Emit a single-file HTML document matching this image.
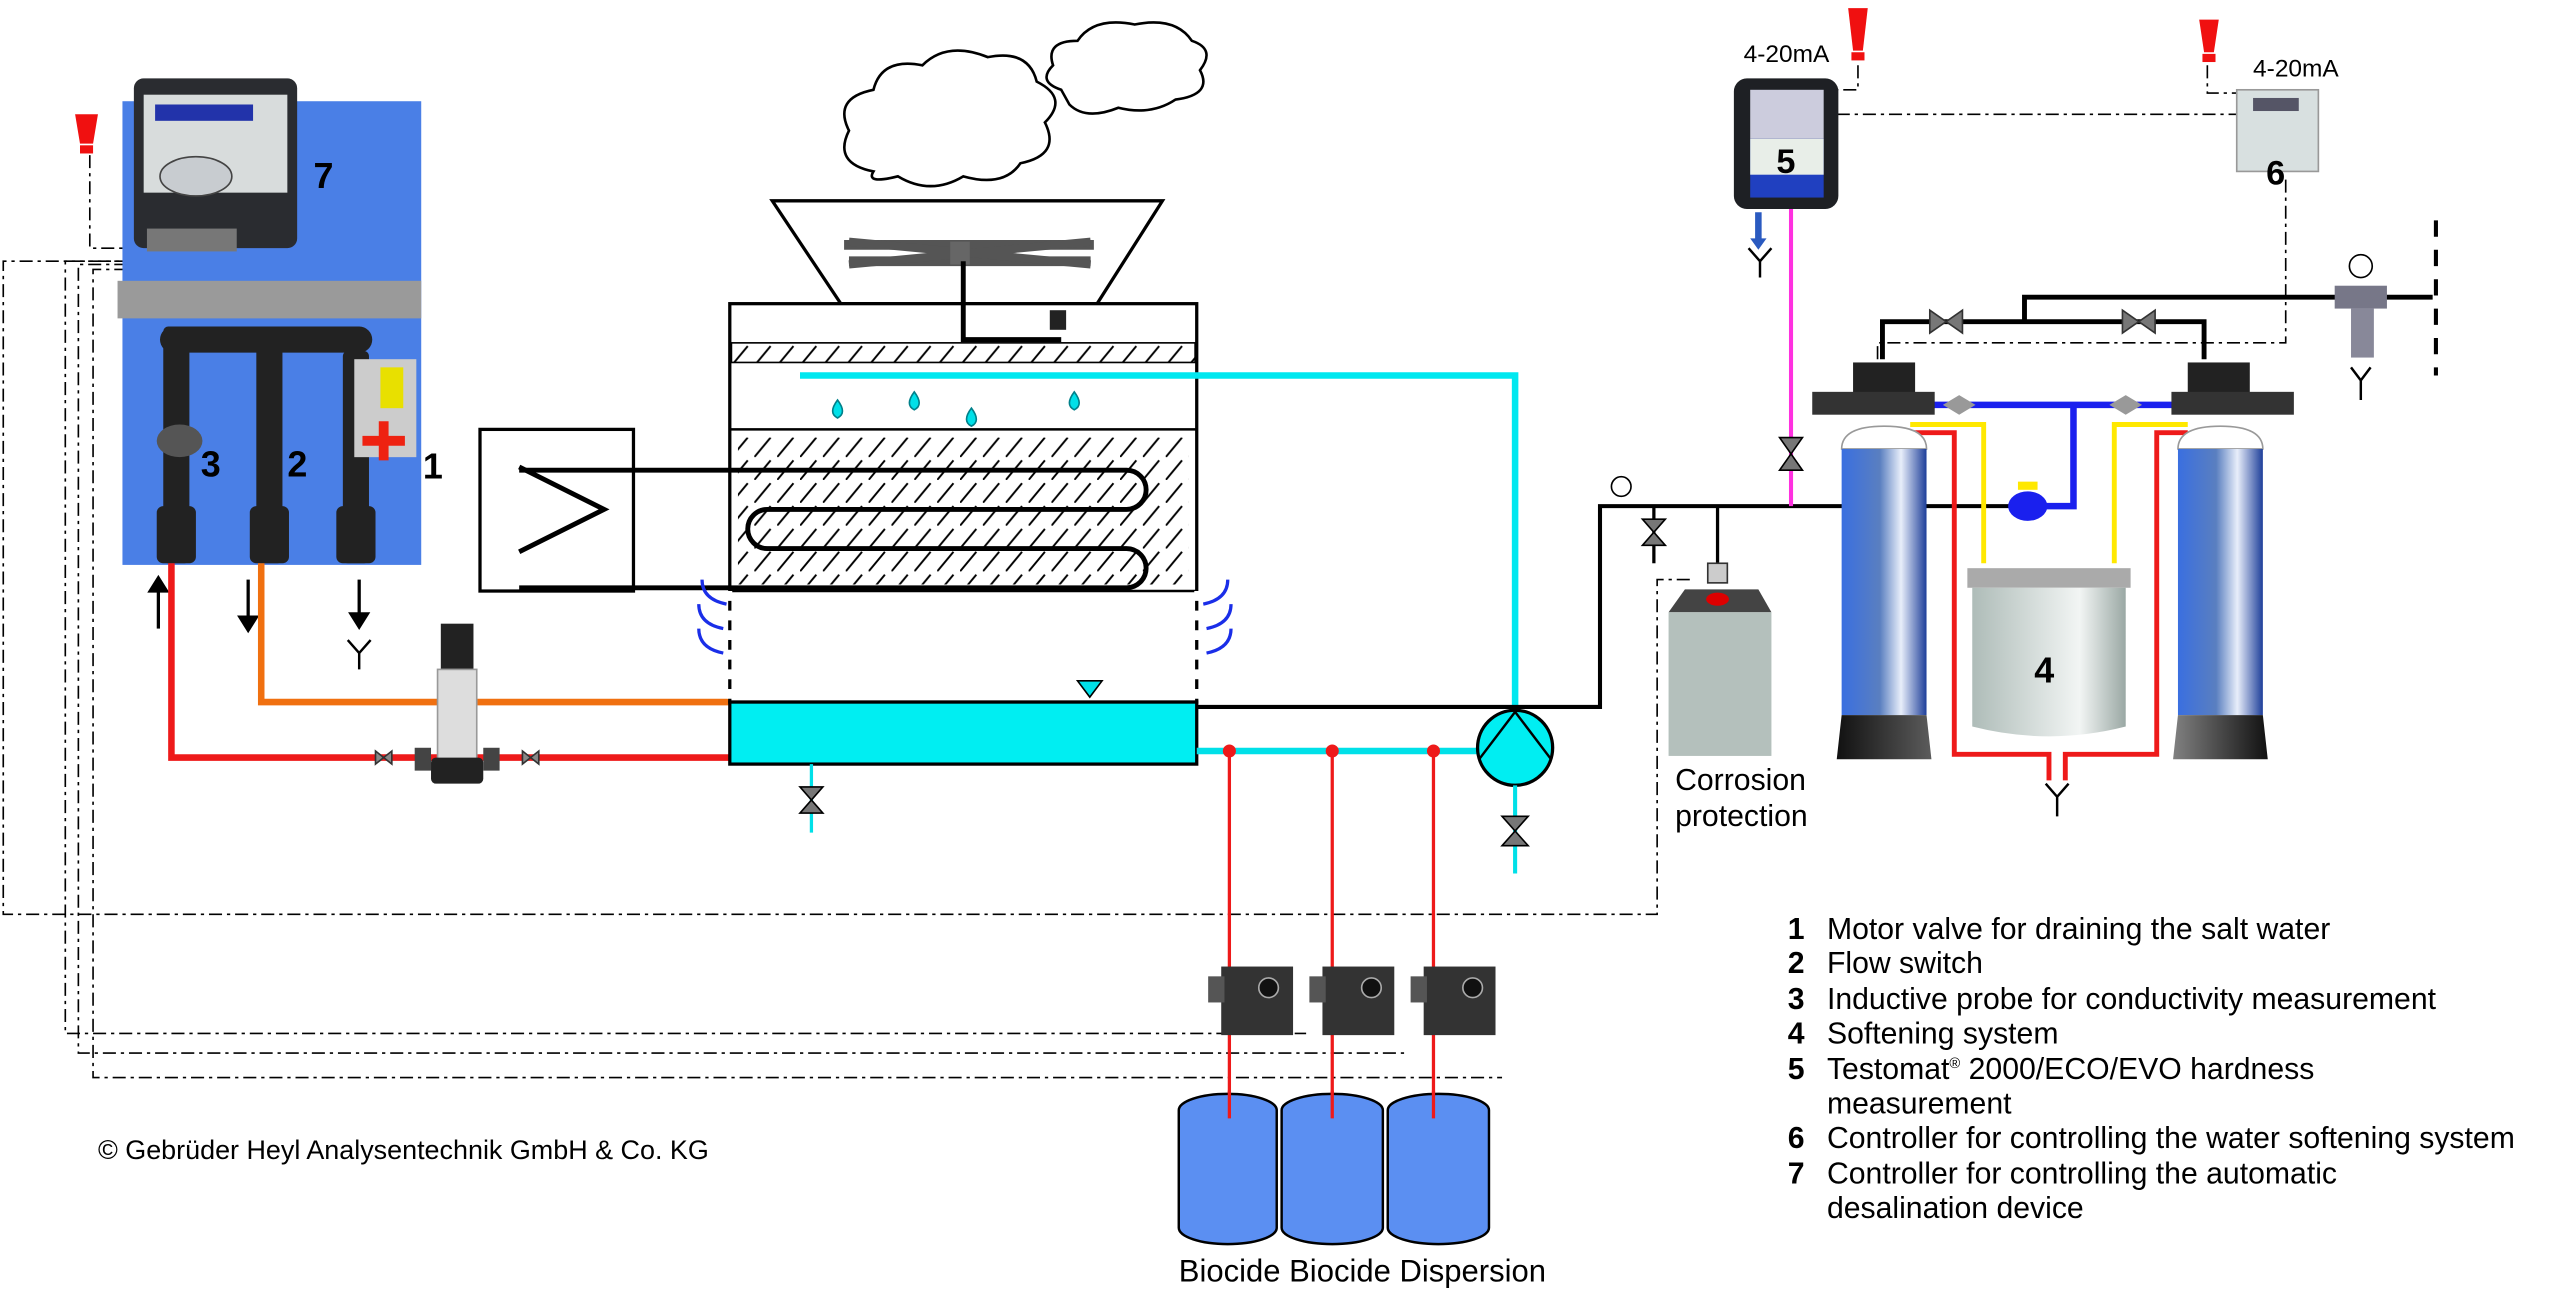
<!DOCTYPE html>
<html><head><meta charset="utf-8"><style>
html,body{margin:0;padding:0;background:#fff;overflow:hidden}
svg{display:block}
text{font-family:"Liberation Sans",Arial,sans-serif}
</style></head><body>
<svg width="2560" height="1289" viewBox="0 0 1568 789.5" preserveAspectRatio="none" xmlns="http://www.w3.org/2000/svg">
<defs>
<linearGradient id="tank" x1="0" x2="1"><stop offset="0" stop-color="#3a6fe0"/><stop offset="0.45" stop-color="#5a7fc0"/><stop offset="0.7" stop-color="#e8eefa"/><stop offset="1" stop-color="#1e3f9a"/></linearGradient>
<linearGradient id="base" x1="0" x2="1"><stop offset="0" stop-color="#111"/><stop offset="0.6" stop-color="#ddd"/><stop offset="1" stop-color="#111"/></linearGradient>
<linearGradient id="brine" x1="0" x2="1"><stop offset="0" stop-color="#aebcb8"/><stop offset="0.7" stop-color="#f2f5f4"/><stop offset="1" stop-color="#9aa8a4"/></linearGradient>
<pattern id="hatch" width="14" height="14" patternUnits="userSpaceOnUse"><path d="M0 14 L10 2" stroke="#000" stroke-width="1.2"/></pattern>
</defs>

<g fill="none" stroke="#000" stroke-width="1" stroke-dasharray="8,3,2,3">
<path d="M55 95 V152 H110"/>
<path d="M100 160 H2 V560 H1015 V355 H1035"/>
<path d="M110 160 H40 V633 H800"/>
<path d="M110 162 H48 V645 H860"/>
<path d="M110 165 H57 V660 H920"/>
<path d="M1138 40 V55 H1125"/>
<path d="M1125 70 H1372"/>
<path d="M1352 40 V57 H1372"/>
<path d="M1400 110 V210 H1150 V225"/>
</g>

<rect x="75" y="62" width="183" height="284" fill="#4a7fe6"/>
<rect x="82" y="48" width="100" height="104" rx="6" fill="#2a2c30"/>
<rect x="88" y="58" width="88" height="60" fill="#d8dcdc"/>
<rect x="95" y="64" width="60" height="10" fill="#2233aa"/>
<ellipse cx="120" cy="108" rx="22" ry="12" fill="#c8ccd0" stroke="#444"/>
<rect x="90" y="140" width="55" height="14" fill="#777"/>
<rect x="72" y="172" width="186" height="23" fill="#9a9a9a"/>
<g fill="#222">
<rect x="98" y="200" width="130" height="16" rx="8"/>
<rect x="100" y="200" width="16" height="145" rx="3"/>
<rect x="157" y="200" width="16" height="145" rx="3"/>
<rect x="210" y="215" width="16" height="130" rx="3"/>
<rect x="96" y="310" width="24" height="35" rx="4"/>
<rect x="153" y="310" width="24" height="35" rx="4"/>
<rect x="206" y="310" width="24" height="35" rx="4"/>
</g>
<ellipse cx="110" cy="270" rx="14" ry="10" fill="#555"/>
<rect x="217" y="220" width="38" height="60" fill="#ccc"/>
<rect x="233" y="225" width="14" height="25" fill="#e8e000"/>
<path d="M222 270 h26 M235 258 v24" stroke="#e21" stroke-width="6"/>
<g font-weight="bold" font-size="22">
<text x="192" y="115">7</text><text x="123" y="292">3</text><text x="176" y="292">2</text><text x="259" y="293">1</text>
</g>
<g fill="#f01010">
<path d="M46 70 h14 l-3 18 h-8 z"/><rect x="49" y="89" width="8" height="5"/>
<path d="M1132 5 h12 l-3 26 h-6 z"/><rect x="1134" y="32" width="8" height="5"/>
<path d="M1347 12 h12 l-3 20 h-6 z"/><rect x="1349" y="33" width="8" height="5"/>
</g>

<g stroke="#000" stroke-width="2" fill="#000">
<path d="M97 385 V360" /><path d="M92 362 l5 -8 l5 8z"/>
<path d="M152 355 V380"/><path d="M147 378 l5 8 l5 -8z"/>
<path d="M220 355 V380"/><path d="M215 376 l5 8 l5 -8z"/>
<path d="M213 392 l7 8 l7 -8 M220 400 v10" fill="none" stroke-width="1.5"/>
</g>

<path d="M160 345 V430 H447" fill="none" stroke="#f07010" stroke-width="4"/>
<path d="M105 345 V464 H447" fill="none" stroke="#ee1a1a" stroke-width="4"/>
<rect x="270" y="382" width="20" height="30" fill="#222"/>
<rect x="268" y="410" width="24" height="58" fill="#ddd" stroke="#999"/>
<rect x="264" y="464" width="32" height="16" rx="3" fill="#222"/>
<rect x="254" y="458" width="10" height="14" fill="#444"/><rect x="296" y="458" width="10" height="14" fill="#444"/>
<path d="M230 460 l10 8 v-8 l-10 8z M320 460 l10 8 v-8 l-10 8z" fill="#888" stroke="#333" stroke-width="1"/>

<g fill="#fff" stroke="#000" stroke-width="1.6">
<path d="M535 105 q-25 -5 -15 -25 q-10 -20 15 -25 q5 -20 30 -15 q15 -15 40 -5 q25 -5 30 15 q20 10 5 25 q10 20 -15 25 q-10 15 -35 8 q-20 12 -40 0 q-20 5 -15 -3z"/>
<path d="M650 55 q-15 -5 -5 -15 q-5 -15 15 -15 q10 -15 35 -10 q25 -5 35 10 q15 5 5 18 q8 15 -15 18 q-15 10 -35 5 q-20 8 -30 -2z"/>
</g>
<path d="M473 123 H712 L672 186 H515 Z" fill="#fff" stroke="#000" stroke-width="2"/>
<path d="M517 150 L670 150 M520 160 L668 160" stroke="#555" stroke-width="6"/>
<path d="M520 148 L668 162 M520 162 L668 148" stroke="#555" stroke-width="5"/>
<rect x="582" y="148" width="12" height="14" fill="#666"/>
<rect x="447" y="186" width="286" height="244" fill="#fff" stroke="#000" stroke-width="2"/>
<path d="M590 160 V208 H650" fill="none" stroke="#000" stroke-width="3"/>
<rect x="643" y="190" width="10" height="12" fill="#222"/>
<rect x="448" y="210" width="284" height="12" fill="url(#hatch)" stroke="#000"/>
<path d="M447 263 H733 M447 362 H733" stroke="#000" stroke-width="1.5"/>
<rect x="452" y="268" width="276" height="90" fill="url(#hatch)"/>
<path d="M490 230 H928 V458" fill="none" stroke="#00e8f0" stroke-width="4"/>
<g fill="#00e0e8" stroke="#00808a" stroke-width="1">
<path d="M513 245 q-6 8 0 11 q6 -3 0 -11z"/><path d="M560 240 q-6 8 0 11 q6 -3 0 -11z"/>
<path d="M595 250 q-6 8 0 11 q6 -3 0 -11z"/><path d="M658 240 q-6 8 0 11 q6 -3 0 -11z"/>
</g>
<rect x="294" y="263" width="94" height="99" fill="#fff" stroke="#000" stroke-width="2"/>
<path d="M318 286 L370 312 L318 338" fill="none" stroke="#000" stroke-width="3"/>
<path d="M318 288 H690 a12 12 0 0 1 0 24 H470 a12 12 0 0 0 0 24 H690 a12 12 0 0 1 0 24 H318" fill="none" stroke="#000" stroke-width="3"/>
<g fill="none" stroke="#1a2ee8" stroke-width="2">
<path d="M430 355 q0 12 15 15 M428 370 q0 12 15 15 M428 385 q0 12 15 15"/>
<path d="M752 355 q0 12 -15 15 M754 370 q0 12 -15 15 M754 385 q0 12 -15 15"/>
</g>
<path d="M447 362 V430 M733 362 V430" stroke="#fff" stroke-width="3" stroke-dasharray="6,6"/>
<rect x="447" y="430" width="286" height="38" fill="#00eef2" stroke="#000" stroke-width="2"/>
<path d="M660 417 h15 l-7.5 10z" fill="#00e0e8" stroke="#000"/>
<path d="M497 468 V510" stroke="#00e0e8" stroke-width="2"/>
<path d="M490 482 l14 0 l-14 16 h14z" fill="#777" stroke="#000"/>
<path d="M733 433 H980 V310 H1240" fill="none" stroke="#000" stroke-width="2.5"/>
<path d="M733 460 H905" stroke="#00e0e8" stroke-width="4"/>
<circle cx="928" cy="458" r="23" fill="#00eef2" stroke="#000" stroke-width="2"/>
<path d="M906 465 L928 436 L950 465" fill="none" stroke="#000" stroke-width="1.5"/>
<path d="M928 481 V535" stroke="#00e0e8" stroke-width="2.5"/>
<path d="M920 500 h16 l-16 18 h16z" fill="#777" stroke="#000"/>
<g stroke="#ee1a1a" stroke-width="2" fill="#ee1a1a">
<path d="M753 460 V685 M816 460 V685 M878 460 V685"/>
<circle cx="753" cy="460" r="3"/><circle cx="816" cy="460" r="3"/><circle cx="878" cy="460" r="3"/>
</g>
<g>
<rect x="748" y="592" width="44" height="42" fill="#333"/><circle cx="777" cy="605" r="6" fill="#111" stroke="#aaa"/><rect x="740" y="598" width="10" height="16" fill="#555"/>
<rect x="810" y="592" width="44" height="42" fill="#333"/><circle cx="840" cy="605" r="6" fill="#111" stroke="#aaa"/><rect x="802" y="598" width="10" height="16" fill="#555"/>
<rect x="872" y="592" width="44" height="42" fill="#333"/><circle cx="902" cy="605" r="6" fill="#111" stroke="#aaa"/><rect x="864" y="598" width="10" height="16" fill="#555"/>
</g>
<g fill="#5b8ff2" stroke="#000" stroke-width="1.5">
<path d="M722 680 a30 10 0 0 1 60 0 V752 a30 10 0 0 1 -60 0z"/>
<path d="M785 680 a31 10 0 0 1 62 0 V752 a31 10 0 0 1 -62 0z"/>
<path d="M850 680 a31 10 0 0 1 62 0 V752 a31 10 0 0 1 -62 0z"/>
</g>
<g stroke="#ee1a1a" stroke-width="2"><path d="M753 668 V685 M816 668 V685 M878 668 V685"/></g>
<text x="722" y="785" font-size="19">Biocide Biocide Dispersion</text>
<text x="60" y="710" font-size="16.5">© Gebrüder Heyl Analysentechnik GmbH &amp; Co. KG</text>

<text x="1068" y="38" font-size="15">4-20mA</text>
<text x="1380" y="47" font-size="15">4-20mA</text>
<rect x="1062" y="48" width="64" height="80" rx="8" fill="#1e2024"/>
<rect x="1072" y="55" width="45" height="30" fill="#ccd"/>
<rect x="1072" y="85" width="45" height="36" fill="#2040c0"/>
<rect x="1072" y="85" width="45" height="22" fill="#e8eee8"/>
<text x="1088" y="106" font-size="21" font-weight="bold">5</text>
<rect x="1370" y="55" width="50" height="50" fill="#d8e0e0" stroke="#999"/>
<rect x="1380" y="60" width="28" height="8" fill="#556"/>
<text x="1388" y="113" font-size="21" font-weight="bold">6</text>
<path d="M1097 128 V310" stroke="#ff30e0" stroke-width="2.5"/>
<path d="M1090 268 h14 l-14 20 h14z" fill="#777" stroke="#000"/>
<path d="M1077 130 V148" stroke="#2a5ac0" stroke-width="4"/><path d="M1072 146 l5 7 l5 -7z" fill="#2a5ac0"/>
<path d="M1071 152 l7 8 l7 -8 M1078 160 v10" fill="none" stroke="#000" stroke-width="1.5"/>
<circle cx="993" cy="298" r="6" fill="#fff" stroke="#000"/>
<path d="M1013 310 V345" stroke="#000" stroke-width="2"/>
<path d="M1006 318 h14 l-14 16 h14z" fill="#777" stroke="#000"/>
<path d="M1052 310 V345" stroke="#000" stroke-width="2"/>
<rect x="1046" y="345" width="12" height="12" fill="#ccc" stroke="#333"/>
<path d="M1022 375 l10 -14 h45 l8 14 z" fill="#444"/><ellipse cx="1052" cy="367" rx="7" ry="4" fill="#d00"/>
<rect x="1022" y="375" width="63" height="88" fill="#b4c0bc"/>
<text x="1026" y="484" font-size="18.5">Corrosion</text><text x="1026" y="506" font-size="18.5">protection</text>
<path d="M1153 220 V197 H1350 V220" fill="none" stroke="#000" stroke-width="3"/>
<path d="M1240 197 V182 H1490" fill="none" stroke="#000" stroke-width="3"/>
<path d="M1182 190 l20 14 v-14 l-20 14z M1300 190 l20 14 v-14 l-20 14z" fill="#777" stroke="#333"/>
<rect x="1430" y="175" width="32" height="14" fill="#778"/><rect x="1440" y="189" width="14" height="30" fill="#889"/>
<circle cx="1446" cy="163" r="7" fill="#fff" stroke="#000"/>
<path d="M1440 225 l6 8 l6 -8 M1446 233 v12" fill="none" stroke="#000" stroke-width="1.5"/>
<path d="M1492 135 V230" stroke="#000" stroke-width="2.5" stroke-dasharray="10,8"/>
<path d="M1180 248 H1333" stroke="#1a20ee" stroke-width="4"/>
<path d="M1270 248 V310 H1250" fill="none" stroke="#1a20ee" stroke-width="4"/>
<path d="M1170 260 H1215 V345 M1340 260 H1295 V345" fill="none" stroke="#ffe800" stroke-width="3"/>
<path d="M1172 265 H1197 V462 H1255 V478 M1340 265 H1321 V462 H1265 V478" fill="none" stroke="#ee1a1a" stroke-width="3"/>
<path d="M1253 480 l7 8 l7 -8 M1260 488 v12" fill="none" stroke="#000" stroke-width="1.5"/>
<rect x="1135" y="222" width="38" height="26" fill="#222"/><rect x="1340" y="222" width="38" height="26" fill="#222"/>
<rect x="1110" y="240" width="75" height="14" fill="#333"/><rect x="1330" y="240" width="75" height="14" fill="#333"/>
<path d="M1128 275 q0 -14 26 -14 q26 0 26 14z M1334 275 q0 -14 26 -14 q26 0 26 14z" fill="#fff" stroke="#999"/>
<rect x="1128" y="275" width="52" height="163" fill="url(#tank)"/>
<rect x="1334" y="275" width="52" height="163" fill="url(#tank)"/>
<path d="M1128 438 H1180 L1183 465 H1125Z M1334 438 H1386 L1389 465 H1331Z" fill="url(#base)"/>
<path d="M1190 248 l10 -6 v12z M1210 248 l-10 -6 v12z M1292 248 l10 -6 v12z M1312 248 l-10 -6 v12z" fill="#999"/>
<ellipse cx="1242" cy="310" rx="12" ry="9" fill="#1a20ee"/><rect x="1236" y="295" width="12" height="5" fill="#ffe800"/>
<rect x="1205" y="348" width="100" height="12" fill="#aaa"/>
<path d="M1208 360 H1302 V445 q-47 12 -94 0z" fill="url(#brine)"/>
<text x="1246" y="418" font-size="22" font-weight="bold">4</text>
<g font-size="18.5">
<text x="1095" y="575" font-weight="bold">1</text><text x="1119" y="575">Motor valve for draining the salt water</text>
<text x="1095" y="596" font-weight="bold">2</text><text x="1119" y="596">Flow switch</text>
<text x="1095" y="618" font-weight="bold">3</text><text x="1119" y="618">Inductive probe for conductivity measurement</text>
<text x="1095" y="639" font-weight="bold">4</text><text x="1119" y="639">Softening system</text>
<text x="1095" y="661" font-weight="bold">5</text><text x="1119" y="661">Testomat<tspan font-size="9" dy="-7">®</tspan><tspan dy="7"> 2000/ECO/EVO hardness</tspan></text>
<text x="1119" y="682">measurement</text>
<text x="1095" y="703" font-weight="bold">6</text><text x="1119" y="703">Controller for controlling the water softening system</text>
<text x="1095" y="725" font-weight="bold">7</text><text x="1119" y="725">Controller for controlling the automatic</text>
<text x="1119" y="746">desalination device</text>
</g>
</svg>
</body></html>
